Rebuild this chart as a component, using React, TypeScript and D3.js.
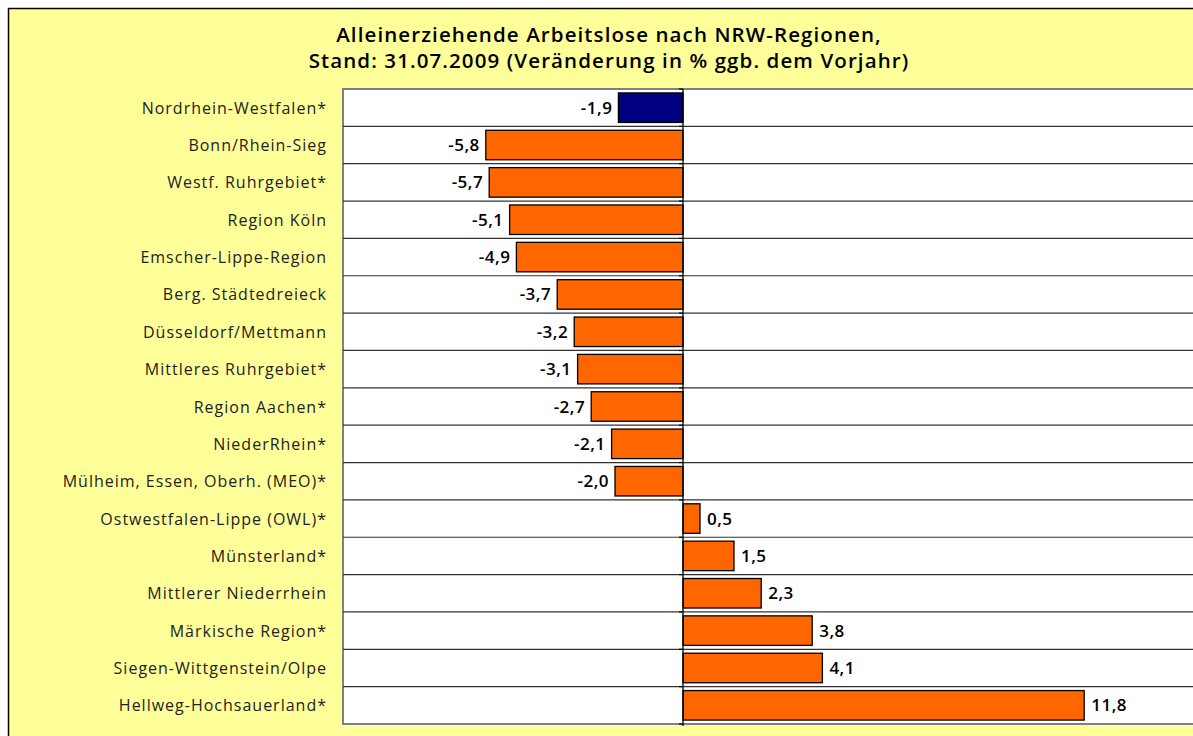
import React from "react";
import * as d3 from "d3";

const categories = [
  "Nordrhein-Westfalen*",
  "Bonn/Rhein-Sieg",
  "Westf. Ruhrgebiet*",
  "Region Köln",
  "Emscher-Lippe-Region",
  "Berg. Städtedreieck",
  "Düsseldorf/Mettmann",
  "Mittleres Ruhrgebiet*",
  "Region Aachen*",
  "NiederRhein*",
  "Mülheim, Essen, Oberh. (MEO)*",
  "Ostwestfalen-Lippe (OWL)*",
  "Münsterland*",
  "Mittlerer Niederrhein",
  "Märkische Region*",
  "Siegen-Wittgenstein/Olpe",
  "Hellweg-Hochsauerland*",
];
const values = [-1.9, -5.8, -5.7, -5.1, -4.9, -3.7, -3.2, -3.1, -2.7, -2.1, -2.0, 0.5, 1.5, 2.3, 3.8, 4.1, 11.8];
const titleLines = [
  "Alleinerziehende Arbeitslose nach NRW-Regionen,",
  "Stand: 31.07.2009 (Veränderung in % ggb. dem Vorjahr)",
];
const xDomain = [-10, 15];

const W = 1193;
const H = 736;
const FONT = "'Open Sans', 'Noto Sans', sans-serif";

export default function App() {
  const plot = { left: 343, right: 1193, top: 89, bottom: 724 };
  const x = d3.scaleLinear().domain(xDomain).range([plot.left, plot.right]);
  const y = d3
    .scaleBand<string>()
    .domain(categories)
    .range([plot.top, plot.bottom])
    .paddingInner(0.21)
    .paddingOuter(0.105);
  const step = (plot.bottom - plot.top) / categories.length;
  const fmt = (v: number) => d3.format(".1f")(v).replace(".", ",").replace("\u2212", "-");
  const x0 = x(0);

  return (
    <svg
      width={W}
      height={H}
      style={{ position: "absolute", left: 0, top: 0, display: "block" }}
      fontFamily={FONT}
    >
      <rect x={0} y={0} width={W} height={H} fill="#ffffff" />
      <rect x={8.5} y={8.5} width={W + 10} height={H + 10} fill="#FFFF99" stroke="#000" strokeWidth={1.5} />
      {titleLines.map((t, i) => (
        <text
          key={i}
          x={609}
          y={42 + i * 26}
          textAnchor="middle"
          fontSize={20.5}
          fontWeight={600}
          letterSpacing={1.1}
          fill="#000"
        >
          {t}
        </text>
      ))}
      <rect
        x={plot.left}
        y={plot.top}
        width={plot.right - plot.left + 5}
        height={plot.bottom - plot.top}
        fill="#fff"
        stroke="#808080"
        strokeWidth={2}
      />
      {categories.slice(1).map((c, i) => {
        const yy = plot.top + step * (i + 1);
        return <line key={c} x1={plot.left} x2={W} y1={yy} y2={yy} stroke="#333" strokeWidth={1.2} />;
      })}
      {categories.map((c, i) => {
        const v = values[i];
        const yb = y(c)!;
        const bx = Math.min(x(v), x0);
        const bw = Math.abs(x(v) - x0);
        return (
          <g key={c}>
            <rect
              x={bx}
              y={yb}
              width={bw}
              height={y.bandwidth()}
              fill={i === 0 ? "#000080" : "#FF6600"}
              stroke="#000"
              strokeWidth={1.3}
            />
            <text
              x={v < 0 ? x(v) - 6 : x(v) + 7}
              y={yb + y.bandwidth() / 2 + 6}
              textAnchor={v < 0 ? "end" : "start"}
              fontSize={17}
              fontWeight={600}
              letterSpacing={0.5}
              fill="#000"
            >
              {fmt(v)}
            </text>
            <text
              x={327}
              y={plot.top + step * (i + 0.5) + 6}
              textAnchor="end"
              fontSize={16}
              letterSpacing={1}
              fill="#222"
            >
              {c}
            </text>
          </g>
        );
      })}
      <line x1={x0} x2={x0} y1={plot.top} y2={plot.bottom + 2} stroke="#000" strokeWidth={1.3} />
      {d3.range(categories.length + 1).map((i) => {
        const yy = plot.top + step * i;
        return <line key={i} x1={x0 - 4} x2={x0} y1={yy} y2={yy} stroke="#000" strokeWidth={1.2} />;
      })}
    </svg>
  );
}
